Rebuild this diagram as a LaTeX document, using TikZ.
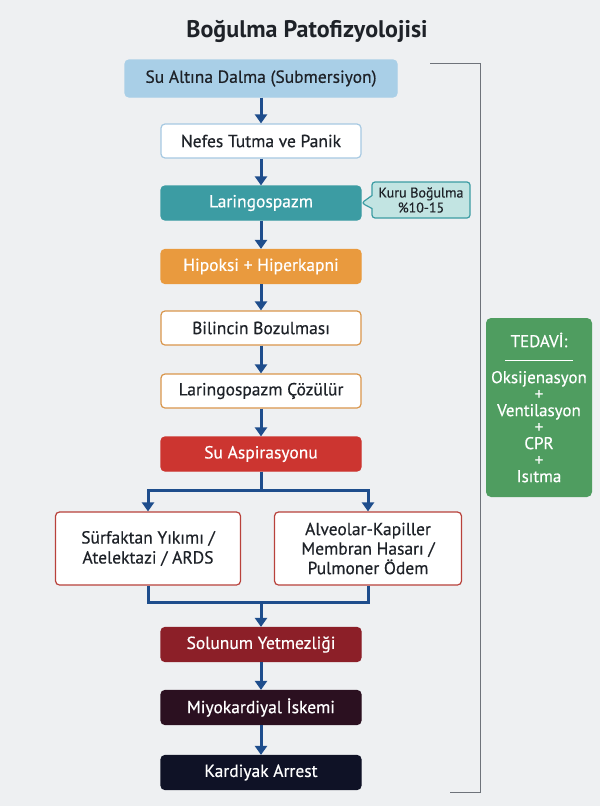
\documentclass[tikz,border=0pt]{standalone}
\usepackage{fontspec}
\setmainfont{PT Sans}
\newfontfamily\medfont{PT Sans}[FakeBold=0.5]
\usetikzlibrary{arrows.meta,shapes.callouts}
\definecolor{bg}{HTML}{EEF0F2}
\definecolor{ink}{HTML}{1E2228}
\definecolor{topblue}{HTML}{A9CFE7}
\definecolor{paleblue}{HTML}{A6C9E2}
\definecolor{tealc}{HTML}{3C9CA3}
\definecolor{paleteal}{HTML}{C2E4E2}
\definecolor{orangec}{HTML}{E99A3E}
\definecolor{orangeline}{HTML}{D9964C}
\definecolor{redc}{HTML}{CC3530}
\definecolor{redline}{HTML}{B8413B}
\definecolor{darkred}{HTML}{8C1F28}
\definecolor{plum}{HTML}{2B1020}
\definecolor{navy}{HTML}{0F1226}
\definecolor{arrblue}{HTML}{1E4D8C}
\definecolor{greenc}{HTML}{4F9D60}
\definecolor{bracketgray}{HTML}{6E737A}
\tikzset{
  box/.style={rounded corners=4pt, minimum width=200pt, minimum height=34pt,
    line width=1.2pt, inner sep=2pt, font=\medfont\fontsize{17.5}{19}\selectfont},
  lightbox/.style={box, draw=#1, fill=white, text=ink},
  darkbox/.style={box, draw=#1, fill=#1, text=white},
  arr/.style={line width=3pt, draw=arrblue, -{Triangle[length=9pt,width=12pt]}},
  link/.style={line width=3pt, draw=arrblue}
}
\begin{document}
\begin{tikzpicture}[x=1pt,y=-1pt]
\fill[bg] (0,0) rectangle (600,806);
\useasboundingbox (0,0) rectangle (600,806);
\node[font=\bfseries\fontsize{24}{26}\selectfont, text=ink] (title) at (307,31) {Boğulma Patofizyolojisi};
% main column
\node[box, fill=topblue, draw=topblue, text=ink, minimum width=272pt, minimum height=37pt] (dalma) at (261,78.5) {Su Altına Dalma (Submersiyon)};
\node[lightbox=paleblue] (nefes) at (261,141) {Nefes Tutma ve Panik};
\node[darkbox=tealc] (lar) at (261,203) {Laringospazm};
\node[darkbox=orangec] (hip) at (261,266.5) {Hipoksi + Hiperkapni};
\node[lightbox=orangeline] (bil) at (261,328) {Bilincin Bozulması};
\node[lightbox=orangeline] (coz) at (261,391) {Laringospazm Çözülür};
\node[darkbox=redc] (asp) at (261,454) {Su Aspirasyonu};
\node[lightbox=redline, minimum width=185pt, minimum height=73pt, align=center,
  font=\medfont\fontsize{17.5}{20}\selectfont] (sur) at (148,548.5) {Sürfaktan Yıkımı /\\Atelektazi / ARDS};
\node[lightbox=redline, minimum width=187pt, minimum height=73pt, align=center,
  font=\medfont\fontsize{17.5}{19.5}\selectfont] (alv) at (368,548.5) {Alveolar-Kapiller\\Membran Hasarı /\\Pulmoner Ödem};
\node[darkbox=darkred] (sol) at (261,644.5) {Solunum Yetmezliği};
\node[darkbox=plum] (miy) at (261,707.5) {Miyokardiyal İskemi};
\node[darkbox=navy] (arrest) at (261,772.5) {Kardiyak Arrest};
% side notes
\node[rectangle callout, callout absolute pointer={(lar.east)}, callout pointer width=13pt,
  fill=paleteal, draw=tealc, line width=1.2pt, rounded corners=3pt,
  minimum width=98pt, minimum height=36pt, inner sep=1pt, align=center, text=ink,
  font=\medfont\fontsize{14}{15}\selectfont] (kuru) at (421,200) {Kuru Boğulma\\\%10-15};
\node[rounded corners=5pt, fill=greenc, minimum width=106pt, minimum height=179pt,
  text=white, align=center, font=\medfont\fontsize{17}{16.5}\selectfont] (tedavi) at (539,407.5)
  {TEDAVİ:\\[-3pt]\rule{68pt}{1pt}\\[6pt]Oksijenasyon\\+\\Ventilasyon\\+\\CPR\\+\\Isıtma};
% arrows
\draw[arr] (dalma) -- (nefes);
\draw[arr] (nefes) -- (lar);
\draw[arr] (lar) -- (hip);
\draw[arr] (hip) -- (bil);
\draw[arr] (bil) -- (coz);
\draw[arr] (coz) -- (asp);
\coordinate (split) at (261,490);
\coordinate (merge) at (261,602);
\draw[link] (asp) -- (split);
\draw[arr] (split) -| (sur.north);
\draw[arr] (split) -| (alv.north);
\draw[link] (sur.south) |- (merge);
\draw[link] (alv.south) |- (merge);
\draw[arr] (merge) -- (sol);
\draw[arr] (sol) -- (miy);
\draw[arr] (miy) -- (arrest);
% bracket
\draw[bracketgray, line width=1pt] (430,63) -- (480,63) -- (480,792) -- (450,792);
\end{tikzpicture}
\end{document}
